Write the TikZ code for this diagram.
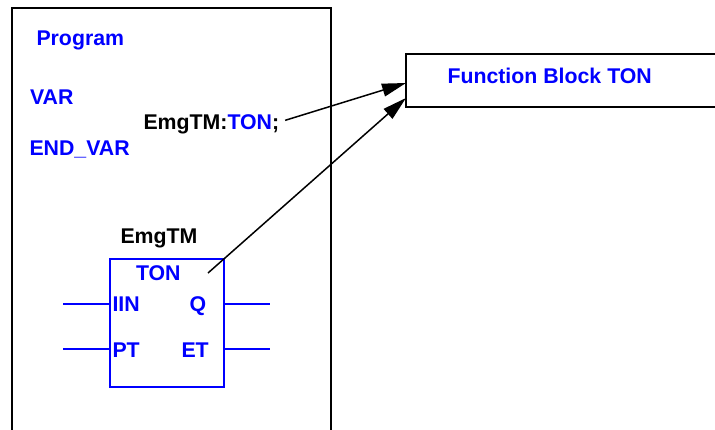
\documentclass[tikz,border=0pt]{standalone}
\usepackage{fontspec}
\setmainfont{Liberation Sans}
\usetikzlibrary{arrows.meta,calc}
\definecolor{plcblue}{RGB}{0,0,255}
\begin{document}
\begin{tikzpicture}[x=1pt,y=-1pt,
  txt/.style={inner sep=0pt, outer sep=0pt, anchor=base west, font=\fontsize{21.3}{25}\selectfont\bfseries},
  bl/.style={txt, text=plcblue},
  bk/.style={txt, text=black},
  frame/.style={draw=black, line width=2pt, inner sep=0pt, outer sep=0pt},
  fbblock/.style={draw=plcblue, line width=2pt, inner sep=0pt, outer sep=0pt},
  pinline/.style={draw=plcblue, line width=2pt},
  arr/.style={draw=black, line width=1.5pt, -{Triangle[length=24pt,width=13pt]}}
]
\clip (0,0) rectangle (715,429);
\fill[white] (0,0) rectangle (715,429);
% frames
\node[frame, minimum width=319pt, minimum height=433pt] (prog) at (171,224) {};
\node[frame, minimum width=334pt, minimum height=53pt] (fb) at (573,80) {};
\node[fbblock, minimum width=114pt, minimum height=128pt] (blk) at (167,323) {};
% texts
\node[bl] (ptitle) at (36.5,45) {Program};
\node[bl] (var) at (30,104) {VAR};
\node[bl] (endvar) at (29.5,155) {END\_VAR};
\node[bk] (decl) at (143.5,129) {EmgTM:\textcolor{plcblue}{TON};};
\node[bl] (fbtitle) at (447.5,83) {Function Block TON};
\node[bk] (inst) at (120.5,243) {EmgTM};
\node[bl] (ton) at (136,280) {TON};
\node[bl] (iin) at (112.5,311) {IIN};
\node[bl] (q) at (189.5,311) {Q};
\node[bl] (pt) at (112.5,357) {PT};
\node[bl] (et) at (181.5,357) {ET};
% pins
\draw[pinline] ([yshift=19pt]blk.west) -- ++(-47,0);
\draw[pinline] ([yshift=-26pt]blk.west) -- ++(-47,0);
\draw[pinline] ([yshift=19pt]blk.east) -- ++(46,0);
\draw[pinline] ([yshift=-26pt]blk.east) -- ++(46,0);
% arrows
\draw[arr] ([xshift=6pt,yshift=3.5pt]decl.east) -- ([yshift=-3pt]fb.west);
\draw[arr] ([xshift=-16pt,yshift=-14pt]blk.north east) -- ([yshift=-18pt]fb.west);
\end{tikzpicture}
\end{document}
